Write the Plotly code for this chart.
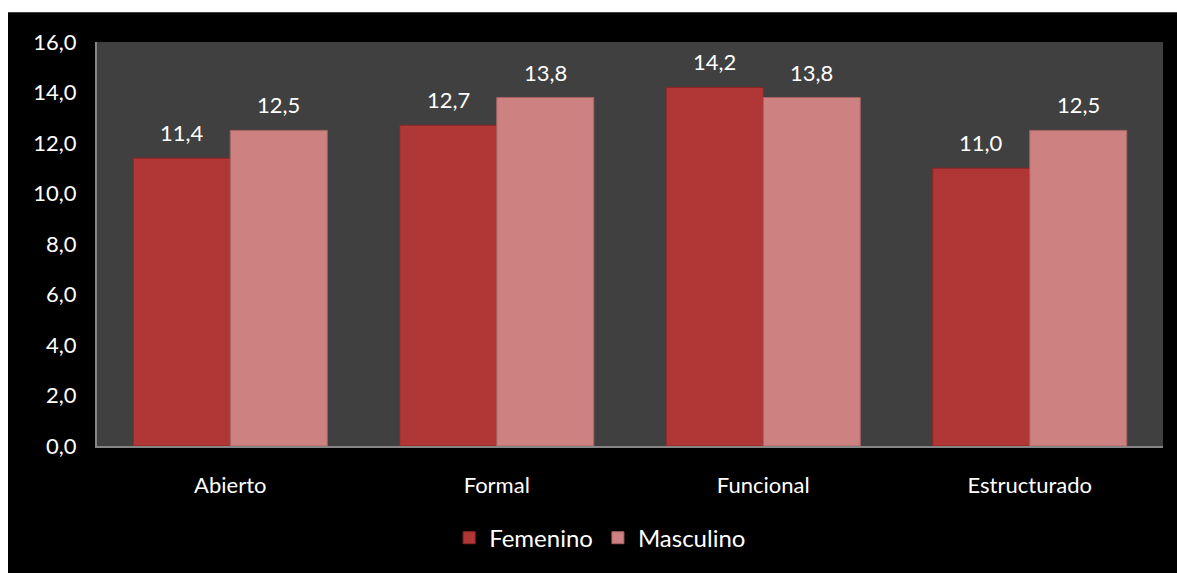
import plotly.graph_objects as go

categories = ["Abierto", "Formal", "Funcional", "Estructurado"]
femenino = [11.4, 12.7, 14.2, 11.0]
masculino = [12.5, 13.8, 13.8, 12.5]
y_ticks = [0, 2, 4, 6, 8, 10, 12, 14, 16]

FONT = "Lato"
fem_color = "#B13636"
mas_color = "#CE8181"

W, H = 1177, 573
L, T = 97, 42
PW, PH = 1066, 408
R, B = W - L - PW, H - T - PH

fig = go.Figure()
fig.add_trace(go.Bar(
    x=categories, y=femenino, name="Femenino",
    marker=dict(color=fem_color, line=dict(color="#8E2626", width=1)),
))
fig.add_trace(go.Bar(
    x=categories, y=masculino, name="Masculino",
    marker=dict(color=mas_color, line=dict(color="#A86464", width=1)),
))

# value labels
for i, c in enumerate(categories):
    for val, off in ((femenino[i], -0.5), (masculino[i], 0.5)):
        fig.add_annotation(
            x=i + off * 0.364, y=val, xref="x", yref="y",
            text=f"{val:.1f}".replace(".", ","), showarrow=False,
            yanchor="bottom", yshift=10,
            font=dict(family=FONT, size=22, color="white"),
        )

# white strips at top (12px) and left (8px) like the reference
fig.add_shape(type="rect", xref="paper", yref="paper",
              x0=-(L + 5) / PW, x1=(W - L + 5) / PW,
              y0=(PH + T - 12) / PH, y1=(PH + T + 5) / PH,
              fillcolor="white", line=dict(width=0), layer="above")
fig.add_shape(type="rect", xref="paper", yref="paper",
              x0=-(L + 5) / PW, x1=(8 - L) / PW,
              y0=-(B + 10) / PH, y1=(PH + T + 5) / PH,
              fillcolor="white", line=dict(width=0), layer="above")

fig.update_layout(
    width=W, height=H,
    margin=dict(l=L, r=R, t=T, b=B),
    paper_bgcolor="black",
    plot_bgcolor="#404040",
    separators=",.",
    barmode="group",
    bargap=0.272, bargroupgap=0,
    font=dict(family=FONT, color="white", size=22),
    showlegend=True,
    legend=dict(orientation="h", x=0.472, xanchor="center", y=-0.228,
                yanchor="middle", font=dict(family=FONT, size=24, color="white"),
                bgcolor="rgba(0,0,0,0)", itemwidth=30, tracegroupgap=0),
    xaxis=dict(showgrid=False, showline=True, linecolor="#868686", linewidth=2,
               ticks="", tickfont=dict(family=FONT, size=22, color="white"),
               ticklabelstandoff=19,
               range=[-0.5, 3.5], fixedrange=True),
    yaxis=dict(range=[0, 16], tickvals=y_ticks, tickformat=".1f",
               showgrid=False, showline=True, linecolor="#868686", linewidth=2,
               ticks="", zeroline=False, ticklabelstandoff=14,
               tickfont=dict(family=FONT, size=22, color="white")),
)

fig.write_html(
    "out.html",
    config={"displayModeBar": False},
    post_script="document.body.style.margin='0';document.body.style.overflow='hidden';",
)
